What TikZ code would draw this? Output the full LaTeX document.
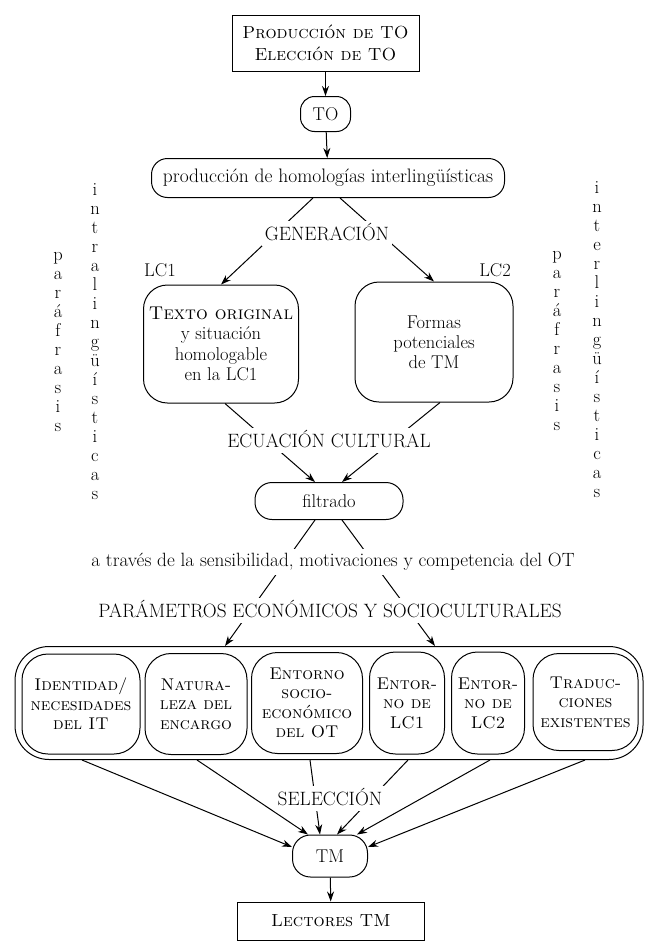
\documentclass[tikz,border=0pt]{standalone}
\usetikzlibrary{arrows.meta}
\newcommand\dfont{\fontsize{18.5}{20}\selectfont}
\newcommand\sfont{\fontsize{17}{19.5}\selectfont\scshape}
\tikzset{
  sqbox/.style={draw, align=center, inner sep=2pt},
  rbox/.style={draw, align=center, inner sep=2pt, rounded corners=#1},
  rbox/.default=24pt,
  cut/.style={fill=white, inner xsep=3pt, inner ysep=6pt, text height=13pt, text depth=0pt,
    font=\fontsize{19.3}{20}\selectfont},
  vert/.style={align=center, inner sep=0pt, font=\fontsize{18.5}{19}\selectfont},
}
\begin{document}
\begin{tikzpicture}[x=1pt, y=-1pt, line width=1pt, font=\dfont,
    >={Stealth[length=10pt, width=7pt]}]
  \useasboundingbox (0,0) rectangle (645,945);

  % parte superior
  \node[sqbox, minimum width=187pt, minimum height=56pt,
        font=\fontsize{17.5}{22}\selectfont\scshape] (prod) at (325.5,43)
        {Producción de TO\\Elección de TO};
  \node[rbox=14pt, minimum width=50pt, minimum height=35pt] (to) at (325.5,114) {TO};
  \node[rbox=16pt, minimum width=353pt, minimum height=39pt,
        font=\fontsize{19.5}{20}\selectfont] (hom) at (328,178)
        {producción de homologías interlingüísticas};

  % las dos lenguas
  \node[rbox, minimum width=155pt, minimum height=118pt,
        font=\fontsize{18.5}{20.5}\selectfont] (orig) at (221,344)
        {\textsc{Texto original}\\y situación\\homologable\\en la LC1};
  \node[rbox, minimum width=158pt, minimum height=120pt] (formas) at (434,342)
        {Formas\\potenciales\\de TM};
  \node (lc1) at (160,270) {LC1};
  \node (lc2) at (495,270) {LC2};

  % parafrasis a los lados
  \node[vert] (parizq) at (58,342) {p\\a\\r\\á\\f\\r\\a\\s\\i\\s};
  \node[vert] (intra) at (95,342) {i\\n\\t\\r\\a\\l\\i\\n\\g\\ü\\í\\s\\t\\i\\c\\a\\s};
  \node[vert] (parder) at (557,341) {p\\a\\r\\á\\f\\r\\a\\s\\i\\s};
  \node[vert] (inter) at (597,340) {i\\n\\t\\e\\r\\l\\i\\n\\g\\ü\\í\\s\\t\\i\\c\\a\\s};

  \node[rbox=17pt, minimum width=148pt, minimum height=37pt] (filt) at (329,501) {filtrado};

  % parametros
  \node[rbox=34pt, minimum width=628pt, minimum height=113pt] (outer) at (329,703) {};
  \node[rbox=26pt, minimum width=118pt, minimum height=100pt, font=\sfont]
        (ident) at (81,704) {Identidad/\\necesidades\\del IT};
  \node[rbox=26pt, minimum width=102pt, minimum height=101pt, font=\sfont]
        (natur) at (196,704) {Natura-\\leza del\\encargo};
  \node[rbox=26pt, minimum width=111pt, minimum height=101pt, font=\sfont]
        (socio) at (307,703) {Entorno\\socio-\\económico\\del OT};
  \node[rbox=26pt, minimum width=75pt, minimum height=102pt, font=\sfont]
        (entlca) at (407,703) {Entor-\\no de\\LC1};
  \node[rbox=26pt, minimum width=73pt, minimum height=102pt, font=\sfont]
        (entlcb) at (488,703) {Entor-\\no de\\LC2};
  \node[rbox=26pt, minimum width=105pt, minimum height=97pt, font=\sfont]
        (trad) at (585.5,702) {Traduc-\\ciones\\existentes};

  % parte inferior
  \node[rbox=18pt, minimum width=75pt, minimum height=42pt] (tm) at (330,856) {TM};
  \node[sqbox, minimum width=187pt, minimum height=38pt,
        font=\fontsize{17.5}{20}\selectfont\scshape] (lect) at (331,921) {Lectores TM};

  % conectores
  \draw[->] (prod) -- (to);
  \draw[->] (to) -- (hom);
  \draw[->] ([xshift=-15pt]hom.south) -- (orig.north);
  \draw[->] ([xshift=12pt]hom.south) -- (formas.north);
  \draw[->] ([xshift=4pt]orig.south) -- ([xshift=-14pt]filt.north);
  \draw[->] ([xshift=6pt]formas.south) -- ([xshift=13pt]filt.north);
  \draw[->] ([xshift=-14pt]filt.south) -- ([xshift=-104pt]outer.north);
  \draw[->] ([xshift=13pt]filt.south) -- ([xshift=106pt]outer.north);
  \draw[->] ([xshift=-247pt]outer.south) -- ([yshift=9pt]tm.west);
  \draw[->] ([xshift=-132pt]outer.south) -- ([xshift=-22pt]tm.north);
  \draw[->] ([xshift=-19pt]outer.south) -- ([xshift=-10pt]tm.north);
  \draw[->] ([xshift=79pt]outer.south) -- ([xshift=7pt]tm.north);
  \draw[->] ([xshift=161pt]outer.south) -- ([xshift=27pt]tm.north);
  \draw[->] ([xshift=256pt]outer.south) -- ([yshift=9pt]tm.east);
  \draw[->] (tm) -- (lect);

  % rotulos sobre las lineas
  \node[cut] (gen) at (327,233.5) {GENERACIÓN};
  \node[cut] (ecu) at (329,440.5) {ECUACIÓN CULTURAL};
  \node[cut, text height=13.5pt, text depth=4pt, inner ysep=4pt,
        font=\fontsize{19.2}{20}\selectfont] (traves) at (333,562)
        {a través de la sensibilidad, motivaciones y competencia del OT};
  \node[cut] (param) at (330,610.5) {PARÁMETROS ECONÓMICOS Y SOCIOCULTURALES};
  \node[cut] (sel) at (330,798.5) {SELECCIÓN};
\end{tikzpicture}
\end{document}
